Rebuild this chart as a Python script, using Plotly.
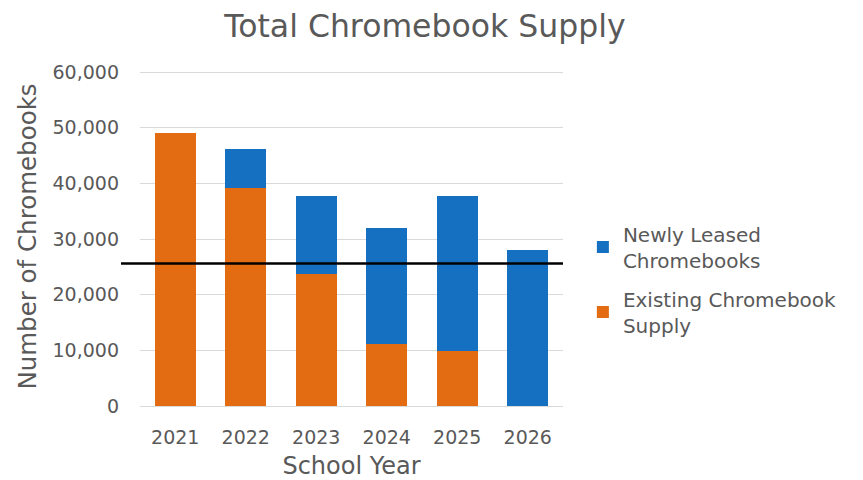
import plotly.graph_objects as go

years = ["2021", "2022", "2023", "2024", "2025", "2026"]
existing = [49100, 39100, 23800, 11100, 9900, 0]
newly = [0, 7000, 13900, 20900, 27900, 28000]
target_line = 25600
y_ticks = [0, 10000, 20000, 30000, 40000, 50000, 60000]

font_family = "'DejaVu Sans', sans-serif"
grey = "#595959"

fig = go.Figure()
fig.add_trace(go.Bar(x=years, y=existing, name="Existing Chromebook<br>Supply",
                     legendgroup="existing", legendrank=2,
                     marker=dict(color="#E36C12", line=dict(width=0))))
fig.add_trace(go.Bar(x=years, y=newly, name="Newly Leased<br>Chromebooks",
                     legendgroup="newly", legendrank=1,
                     marker=dict(color="#1570C2", line=dict(width=0))))

fig.add_shape(type="line", xref="paper", yref="y", x0=-0.045, x1=1.0,
              y0=target_line, y1=target_line, line=dict(color="black", width=2.5))

fig.update_layout(
    width=855, height=472,
    barmode="stack", bargap=0.42,
    paper_bgcolor="white", plot_bgcolor="white",
    margin=dict(l=132, r=300, t=59, b=74, autoexpand=False),
    font=dict(family=font_family, color=grey, size=18),
    title=dict(text="Total Chromebook Supply", x=0.4877, xanchor="center",
               xref="container", yref="container",
               y=0.961, yanchor="middle",
               font=dict(size=31.5, color=grey, family=font_family)),
    xaxis=dict(title=dict(text="School Year", font=dict(size=24), standoff=15),
               tickfont=dict(size=19), ticklabelstandoff=18,
               showgrid=False, showline=False, ticks=""),
    yaxis=dict(title=dict(text="Number of Chromebooks", font=dict(size=24.5), standoff=8),
               range=[0, 60900], tickvals=y_ticks, tickformat=",d",
               tickfont=dict(size=19), ticklabelstandoff=20,
               showgrid=True, gridcolor="#D9D9D9", gridwidth=1,
               zeroline=True, zerolinecolor="#D9D9D9", zerolinewidth=1, ticks=""),
    legend=dict(x=1.047, y=0.373, xanchor="left", yanchor="middle",
                traceorder="grouped", font=dict(size=20, color=grey),
                itemsizing="constant", tracegroupgap=10),
)

fig.write_html("out.html")
